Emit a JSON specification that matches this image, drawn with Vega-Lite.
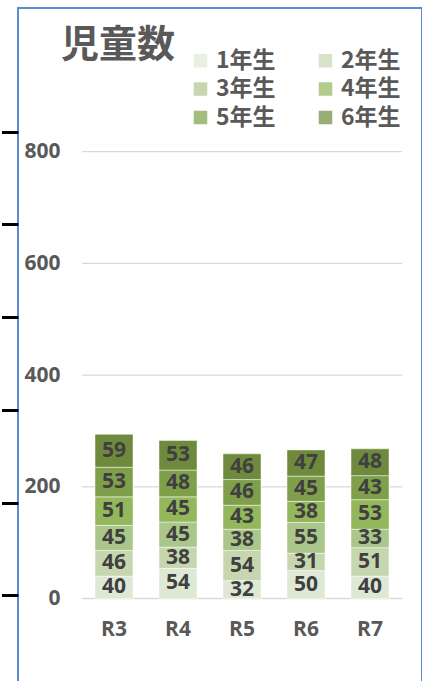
{
  "$schema": "https://vega.github.io/schema/vega-lite/v6.json",
  "width": 404,
  "height": 682,
  "padding": {"top": 8, "left": 0, "right": 0, "bottom": 0},
  "autosize": {"type": "pad"},
  "background": "white",
  "config": {
    "view": {"stroke": "#5b8cd2", "strokeWidth": 2},
    "font": "Noto Sans CJK JP"
  },
  "title": {
    "text": "児童数",
    "anchor": "start",
    "frame": "group",
    "offset": -57,
    "dx": 43,
    "fontSize": 38,
    "fontWeight": "bold",
    "color": "#595959",
    "font": "Noto Sans CJK JP"
  },
  "datasets": {
    "kids": [
      {"year": "R3", "grade": "1年生", "n": 40},
      {"year": "R3", "grade": "2年生", "n": 46},
      {"year": "R3", "grade": "3年生", "n": 45},
      {"year": "R3", "grade": "4年生", "n": 51},
      {"year": "R3", "grade": "5年生", "n": 53},
      {"year": "R3", "grade": "6年生", "n": 59},
      {"year": "R4", "grade": "1年生", "n": 54},
      {"year": "R4", "grade": "2年生", "n": 38},
      {"year": "R4", "grade": "3年生", "n": 45},
      {"year": "R4", "grade": "4年生", "n": 45},
      {"year": "R4", "grade": "5年生", "n": 48},
      {"year": "R4", "grade": "6年生", "n": 53},
      {"year": "R5", "grade": "1年生", "n": 32},
      {"year": "R5", "grade": "2年生", "n": 54},
      {"year": "R5", "grade": "3年生", "n": 38},
      {"year": "R5", "grade": "4年生", "n": 43},
      {"year": "R5", "grade": "5年生", "n": 46},
      {"year": "R5", "grade": "6年生", "n": 46},
      {"year": "R6", "grade": "1年生", "n": 50},
      {"year": "R6", "grade": "2年生", "n": 31},
      {"year": "R6", "grade": "3年生", "n": 55},
      {"year": "R6", "grade": "4年生", "n": 38},
      {"year": "R6", "grade": "5年生", "n": 45},
      {"year": "R6", "grade": "6年生", "n": 47},
      {"year": "R7", "grade": "1年生", "n": 40},
      {"year": "R7", "grade": "2年生", "n": 51},
      {"year": "R7", "grade": "3年生", "n": 33},
      {"year": "R7", "grade": "4年生", "n": 53},
      {"year": "R7", "grade": "5年生", "n": 43},
      {"year": "R7", "grade": "6年生", "n": 48}
    ],
    "grid": [{"v": 0}, {"v": 200}, {"v": 400}, {"v": 600}, {"v": 800}],
    "marks": [{"t": 0}, {"t": 1}, {"t": 2}, {"t": 3}, {"t": 4}, {"t": 5}]
  },
  "layer": [
    {
      "data": {"name": "grid"},
      "mark": {"type": "rule", "color": "#d9d9d9", "strokeWidth": 1.3},
      "encoding": {
        "y": {
          "field": "v",
          "type": "quantitative",
          "scale": {"domain": [-163.8, 1057.3], "nice": false, "zero": false},
          "axis": {
            "orient": "left",
            "offset": -44,
            "values": [0, 200, 400, 600, 800],
            "domain": false,
            "ticks": false,
            "tickSize": 0,
            "grid": false,
            "labelPadding": 2,
            "labelFont": "Open Sans",
            "labelFontSize": 21,
            "labelFontWeight": "bold",
            "labelColor": "#595959",
            "title": null
          }
        },
        "x": {
          "datum": 0,
          "type": "quantitative",
          "scale": {"domain": [-0.2, 1.0625], "nice": false, "zero": false},
          "axis": null
        },
        "x2": {"datum": 1}
      }
    },
    {
      "data": {"name": "kids"},
      "mark": {"type": "bar", "stroke": "#ffffff", "strokeWidth": 0.8, "strokeOpacity": 0.6},
      "encoding": {
        "x": {
          "field": "year",
          "type": "nominal",
          "scale": {"type": "band", "paddingInner": 0.40625, "paddingOuter": 0.859375, "align": 0.7},
          "axis": {
            "orient": "bottom",
            "offset": -61,
            "domain": false,
            "ticks": false,
            "tickSize": 0,
            "grid": false,
            "labelPadding": 0,
            "labelBaseline": "middle",
            "labelAngle": 0,
            "labelFont": "Open Sans",
            "labelFontSize": 21,
            "labelFontWeight": "bold",
            "labelColor": "#595959",
            "title": null
          }
        },
        "y": {
          "field": "n",
          "type": "quantitative",
          "stack": "zero",
          "scale": {"domain": [-163.8, 1057.3], "nice": false, "zero": false},
          "axis": null
        },
        "color": {
          "field": "grade",
          "type": "nominal",
          "scale": {
            "domain": ["1年生", "2年生", "3年生", "4年生", "5年生", "6年生"],
            "range": ["#dfe8d5", "#c6d7b0", "#abc68a", "#93b75a", "#7f9f4a", "#6f893d"]
          },
          "legend": {
            "orient": "none",
            "legendX": 171,
            "legendY": 41,
            "direction": "horizontal",
            "columns": 2,
            "title": null,
            "symbolType": "square",
            "symbolSize": 182,
            "symbolStrokeWidth": 0,
            "symbolOpacity": 0.7,
            "labelFont": "Noto Sans CJK JP",
            "labelFontSize": 23,
            "labelFontWeight": "bold",
            "labelColor": "#595959",
            "labelOffset": 4,
            "columnPadding": 38,
            "rowPadding": 4.5,
            "padding": 0,
            "offset": 0
          }
        },
        "order": {"field": "grade", "sort": "ascending"}
      }
    },
    {
      "data": {"name": "kids"},
      "mark": {"type": "text", "fontSize": 21, "fontWeight": "bold", "color": "#404040", "baseline": "middle", "font": "Open Sans"},
      "encoding": {
        "x": {
          "field": "year",
          "type": "nominal",
          "scale": {"type": "band", "paddingInner": 0.40625, "paddingOuter": 0.859375, "align": 0.7},
          "axis": null
        },
        "y": {
          "field": "n",
          "type": "quantitative",
          "stack": "zero",
          "bandPosition": 0.5,
          "scale": {"domain": [-163.8, 1057.3], "nice": false, "zero": false},
          "axis": null
        },
        "detail": {"field": "grade"},
        "order": {"field": "grade", "sort": "ascending"},
        "text": {"field": "n", "type": "quantitative"}
      }
    },
    {
      "data": {"name": "marks"},
      "mark": {"type": "point", "opacity": 0},
      "encoding": {
        "y": {
          "field": "t",
          "type": "quantitative",
          "scale": {"domain": [-1.0216, 6.3355], "nice": false, "zero": false},
          "axis": {
            "orient": "left",
            "offset": 0,
            "values": [0, 1, 2, 3, 4, 5],
            "domain": false,
            "labels": false,
            "grid": false,
            "ticks": true,
            "tickSize": 16.5,
            "tickWidth": 3,
            "tickColor": "#000000",
            "title": null
          }
        }
      }
    }
  ],
  "resolve": {"scale": {"x": "independent", "y": "independent"}}
}
